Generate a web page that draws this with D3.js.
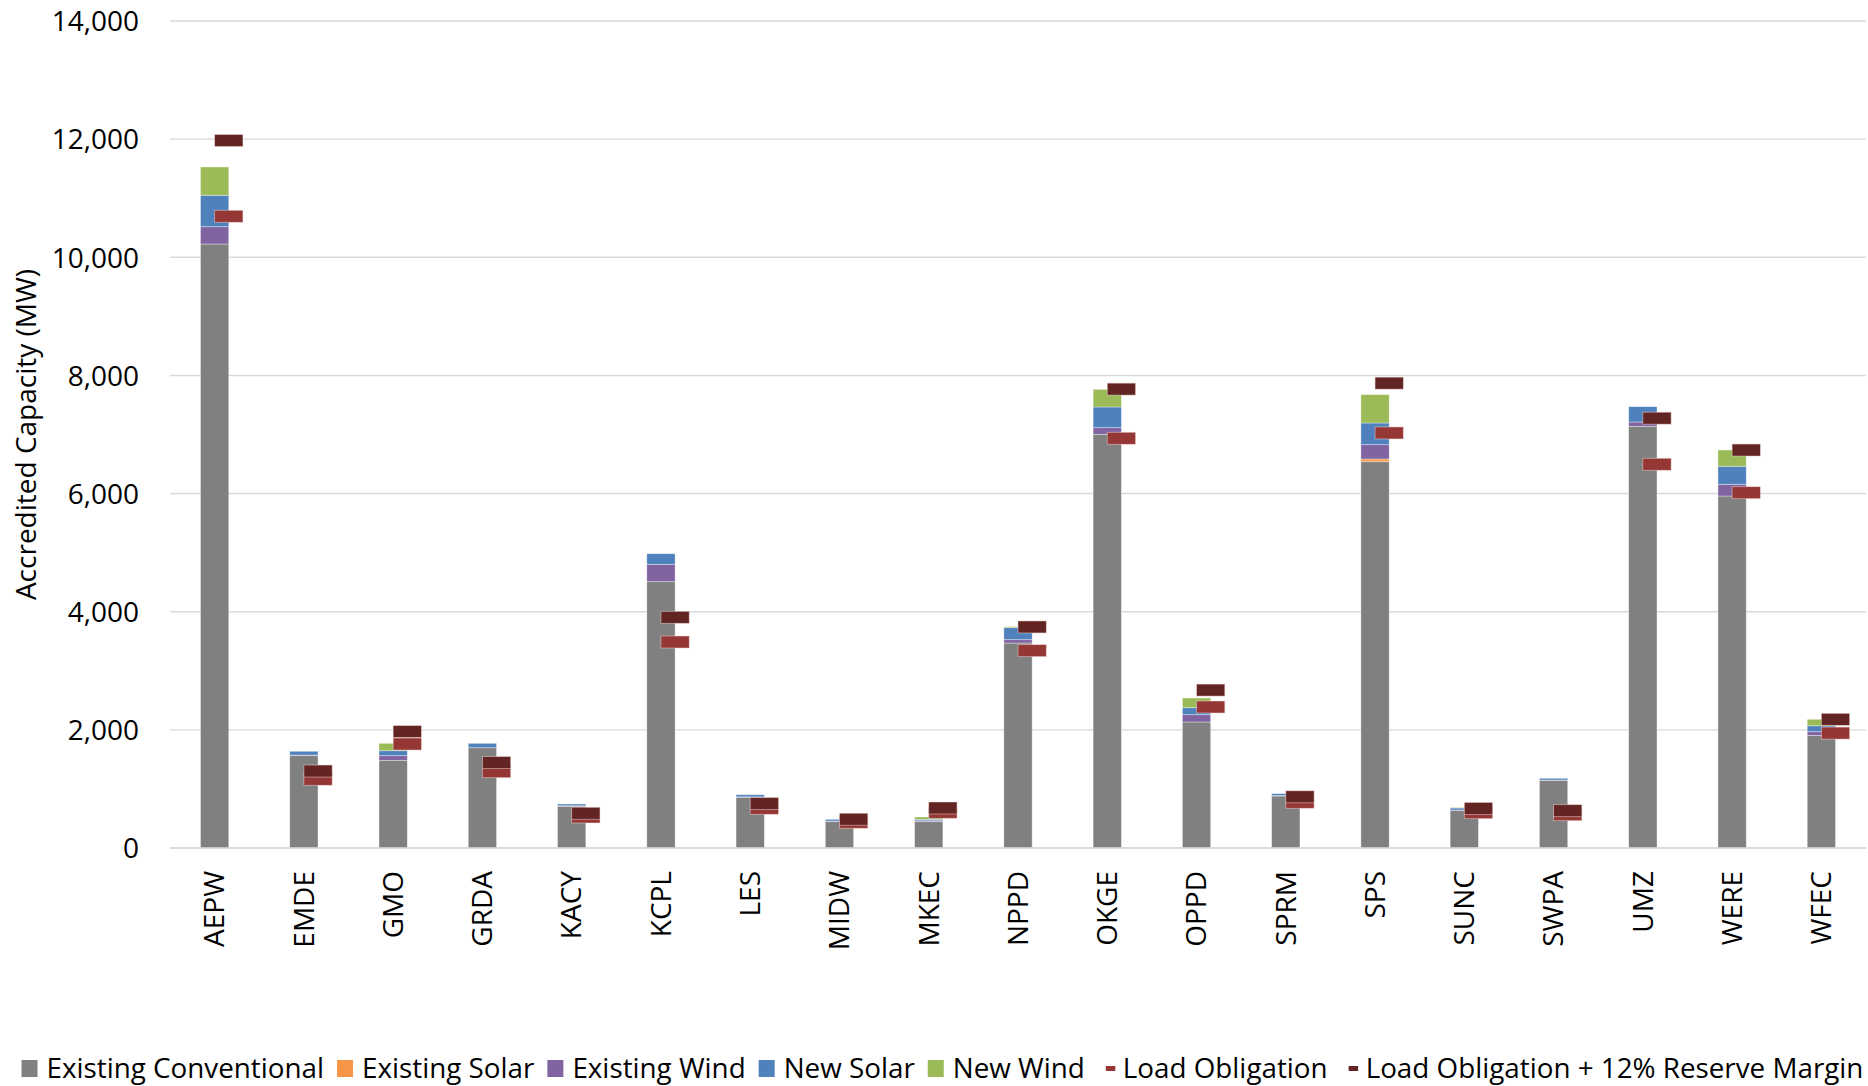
<!DOCTYPE html>
<html>
<head>
<meta charset="utf-8">
<script src="https://cdn.jsdelivr.net/npm/d3@7"></script>
<style>
  html, body { margin: 0; padding: 0; background: #fff; }
  svg { display: block; font-family: "Open Sans", "Noto Sans", sans-serif; }
</style>
</head>
<body>
<svg id="chart" width="1868" height="1086"></svg>
<script>
const categories = ["AEPW","EMDE","GMO","GRDA","KACY","KCPL","LES","MIDW","MKEC","NPPD","OKGE","OPPD","SPRM","SPS","SUNC","SWPA","UMZ","WERE","WFEC"];
const existingConventional = [10225,1563,1484,1698,706,4509,858,446,446,3470,7003,2133,880,6540,638,1146,7138,5959,1905];
const existingSolar        = [0,0,0,0,0,0,0,0,0,0,0,0,0,45,0,0,0,0,0];
const existingWind         = [293,10,79,0,10,293,8,10,15,57,113,124,10,243,5,5,74,198,64];
const newSolar             = [532,64,84,74,29,180,36,29,24,203,350,118,30,367,34,29,259,305,100];
const newWind              = [479,0,125,0,0,0,0,0,40,17,299,164,0,480,8,0,0,276,110];
const loadObligation       = [10694,1163,1760,1292,525,3487,672,435,604,3341,6936,2387,774,7026,598,564,6496,6015,1945];
const loadPlusReserve      = [11977,1303,1971,1447,588,3905,753,487,677,3742,7768,2673,867,7869,670,632,7276,6737,2178];
const yTicks = [0,2000,4000,6000,8000,10000,12000,14000];

const seriesNames = ["Existing Conventional","Existing Solar","Existing Wind","New Solar","New Wind"];
const seriesColors = ["#808080","#f79646","#8064a2","#4f81bd","#9bbb59"];
const seriesValues = [existingConventional, existingSolar, existingWind, newSolar, newWind];
const lineNames = ["Load Obligation","Load Obligation + 12% Reserve Margin"];
const lineColors = ["#953735","#632523"];
const lineValues = [loadObligation, loadPlusReserve];

(function draw() {
const svg = d3.select("#chart");
const pLeft = 170, pRight = 1866, pTop = 21, pBottom = 848;

const x = d3.scaleBand().domain(categories).range([pLeft, pRight]).paddingInner(0.683).paddingOuter(0.3415);
const y = d3.scaleLinear().domain([0, 14000]).range([pBottom, pTop]);

// gridlines
svg.append("g").selectAll("line").data(yTicks).join("line")
  .attr("x1", pLeft).attr("x2", pRight)
  .attr("y1", d => y(d)).attr("y2", d => y(d))
  .attr("stroke", "#d9d9d9").attr("stroke-width", 1.4);

// y axis labels
const yAxis = d3.axisLeft(y).tickValues(yTicks).tickFormat(d3.format(",")).tickSize(0).tickPadding(0);
const yg = svg.append("g").attr("transform", "translate(139,0)").call(yAxis);
yg.select(".domain").remove();
yg.selectAll("text").attr("font-size", 28).attr("fill", "#000").attr("font-family", "Open Sans").attr("dy", "0.35em");

// stacked bars
const table = categories.map((c, i) => {
  const o = { cat: c };
  seriesNames.forEach((s, k) => o[s] = seriesValues[k][i]);
  return o;
});
const stacked = d3.stack().keys(seriesNames)(table);
svg.append("g").selectAll("g").data(stacked).join("g")
  .attr("fill", (d, i) => seriesColors[i])
  .selectAll("rect").data(d => d.filter(s => s[1] > s[0])).join("rect")
  .attr("x", d => x(d.data.cat))
  .attr("width", x.bandwidth())
  .attr("y", d => y(d[1]))
  .attr("height", d => Math.max(0, y(d[0]) - y(d[1])))
  .attr("stroke", "#ffffff").attr("stroke-opacity", 0.45).attr("stroke-width", 0.8);

// x axis baseline
svg.append("line").attr("x1", pLeft).attr("x2", pRight).attr("y1", pBottom).attr("y2", pBottom)
  .attr("stroke", "#d9d9d9").attr("stroke-width", 1.4);

// markers (load obligation)
const mw = x.bandwidth(), mh = 12;
lineValues.forEach((vals, k) => {
  svg.append("g").selectAll("rect").data(categories).join("rect")
    .attr("x", c => x(c) + x.bandwidth() / 2)
    .attr("y", (c, i) => y(vals[i]) - mh / 2)
    .attr("width", mw).attr("height", mh)
    .attr("fill", lineColors[k])
    .attr("stroke", "#f2dcdb").attr("stroke-opacity", 0.6).attr("stroke-width", 0.8);
});

// x labels
const xAxis = d3.axisBottom(x).tickSize(0).tickPadding(0);
const xg = svg.append("g").attr("transform", `translate(0,${pBottom})`).call(xAxis);
xg.select(".domain").remove();
xg.selectAll("text")
  .attr("font-size", 28).attr("fill", "#000").attr("font-family", "Open Sans")
  .attr("text-anchor", "end")
  .attr("transform", "translate(0,23) rotate(-90)")
  .attr("x", 0).attr("y", 0).attr("dy", "0.35em");

// y title
svg.append("text")
  .attr("transform", `translate(26,${(pTop + pBottom) / 2}) rotate(-90)`)
  .attr("text-anchor", "middle").attr("dy", "0.35em")
  .attr("font-size", 28).attr("fill", "#000")
  .text("Accredited Capacity (MW)");

// legend
const legendItems = seriesNames.map((n, i) => ({ name: n, color: seriesColors[i], type: "box" }))
  .concat(lineNames.map((n, i) => ({ name: n, color: lineColors[i], type: "line" })));
const lg = svg.append("g");
let cx = 21.5;
const baseY = 1078;
legendItems.forEach((it) => {
  if (it.type === "box") {
    lg.append("rect").attr("x", cx).attr("y", baseY - 18).attr("width", 16).attr("height", 17).attr("fill", it.color);
    cx += 16 + 9;
  } else {
    cx += 8;
    lg.append("rect").attr("x", cx).attr("y", baseY - 12).attr("width", 9.5).attr("height", 5).attr("fill", it.color);
    cx += 9.5 + 7.5;
  }
  const t = lg.append("text").attr("x", cx).attr("y", baseY)
    .attr("font-size", 27.8).attr("fill", "#000").text(it.name);
  cx += t.node().getComputedTextLength() + 13;
});
})();
</script>
</body>
</html>
